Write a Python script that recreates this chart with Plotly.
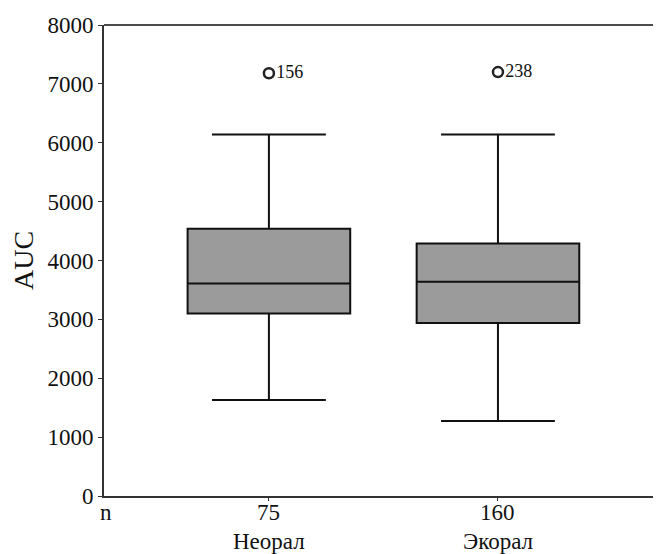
import plotly.graph_objects as go

groups = ["Неорал", "Экорал"]
n_counts = ["75", "160"]
q1 = [3100, 2940]
median = [3610, 3640]
q3 = [4540, 4290]
lower = [1630, 1275]
upper = [6140, 6140]
outlier_y = [7180, 7200]
outlier_id = ["156", "238"]
y_ticks = [0, 1000, 2000, 3000, 4000, 5000, 6000, 7000, 8000]

xpos = list(range(len(groups)))
font = "Liberation Serif, Times New Roman, serif"

fig = go.Figure()
fig.add_trace(go.Box(
    x=xpos, q1=q1, median=median, q3=q3,
    lowerfence=lower, upperfence=upper,
    width=0.71, whiskerwidth=0.7,
    fillcolor="#9b9b9b", line=dict(color="#111111", width=2),
    boxpoints=False, hoverinfo="skip", showlegend=False,
))
fig.add_trace(go.Scatter(
    x=xpos, y=outlier_y, mode="markers+text", text=outlier_id,
    textposition="middle right",
    textfont=dict(family=font, size=18, color="#111"),
    marker=dict(symbol="circle-open", size=10, color="#222",
                line=dict(width=2.5, color="#222")),
    showlegend=False, hoverinfo="skip",
))

annotations = [
    dict(text="n", xref="paper", yref="paper", x=0.004, y=-0.036,
         xanchor="center", yanchor="middle", showarrow=False,
         font=dict(family=font, size=23, color="#111")),
]
for xp, n, g in zip(xpos, n_counts, groups):
    annotations.append(dict(text=n, xref="x", yref="paper", x=xp, y=-0.036,
                            xanchor="center", yanchor="middle", showarrow=False,
                            font=dict(family=font, size=23, color="#111")))
    annotations.append(dict(text=g, xref="x", yref="paper", x=xp, y=-0.096,
                            xanchor="center", yanchor="middle", showarrow=False,
                            font=dict(family=font, size=23, color="#111")))

fig.update_layout(
    width=653, height=546,
    margin=dict(l=96, r=5, t=17, b=58),
    paper_bgcolor="white", plot_bgcolor="white",
    font=dict(family=font, size=23, color="#111"),
    xaxis=dict(
        range=[-0.72, 1.69], tickvals=xpos, showticklabels=False,
        showline=True, linecolor="#333", linewidth=2,
        ticks="outside", ticklen=3, tickcolor="#333",
        showgrid=False, zeroline=False, automargin=False,
    ),
    yaxis=dict(
        range=[0, 8000], tickvals=y_ticks,
        showline=True, linecolor="#333", linewidth=2,
        ticks="outside", ticklen=4, tickcolor="#333",
        showgrid=False, zeroline=False, automargin=False,
        title=dict(text="AUC", standoff=14),
    ),
    shapes=[
        dict(type="line", xref="paper", yref="paper", x0=0, x1=1, y0=1, y1=1,
             line=dict(color="#111", width=1.5)),
        dict(type="line", xref="paper", yref="paper", x0=1, x1=1, y0=0, y1=1,
             line=dict(color="#111", width=1.5)),
    ],
    annotations=annotations,
)

fig.write_html("out.html")
